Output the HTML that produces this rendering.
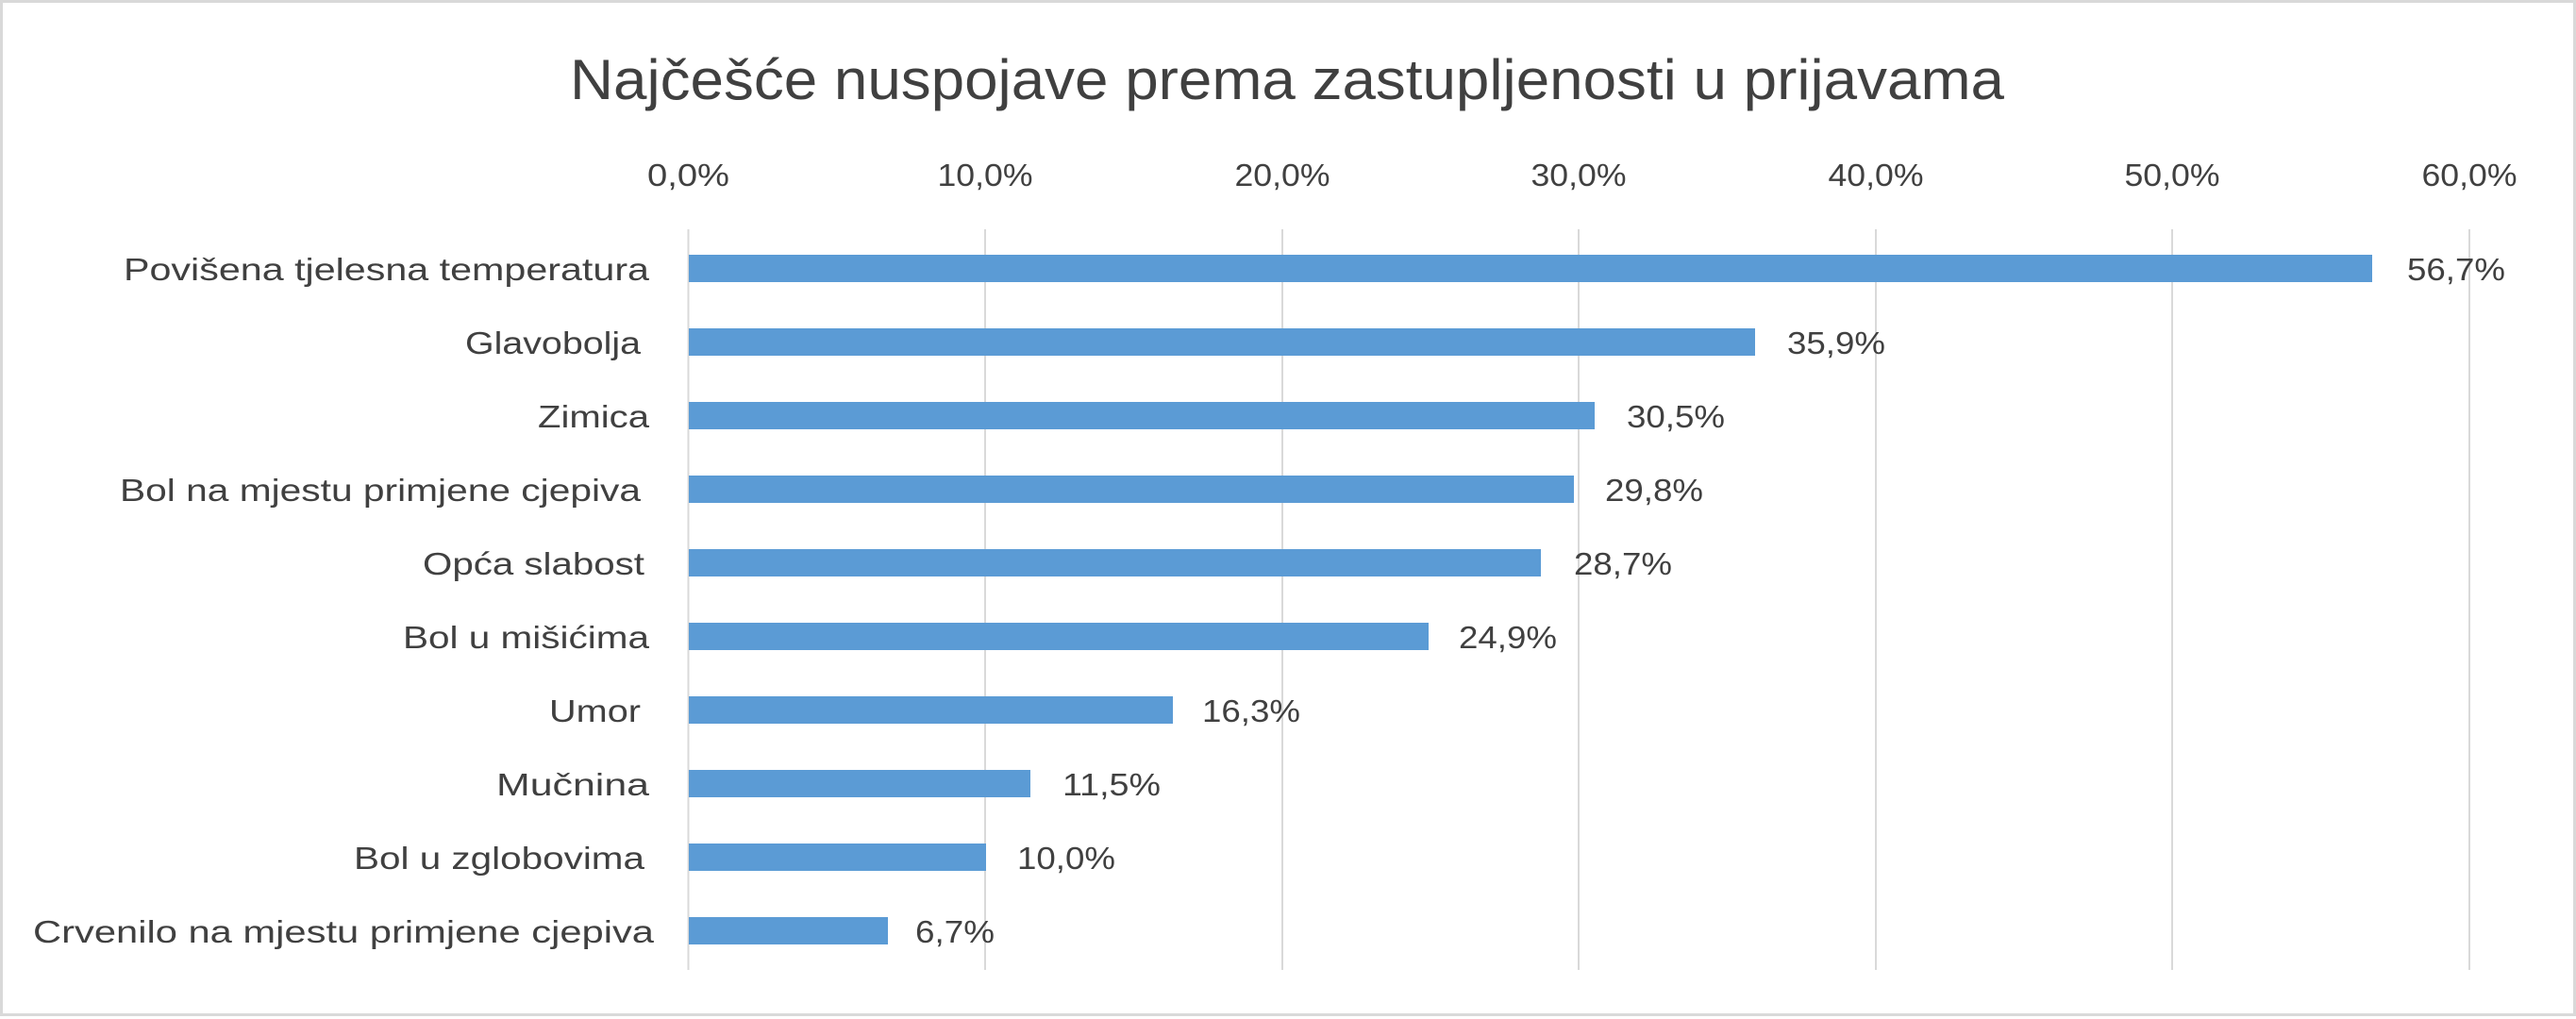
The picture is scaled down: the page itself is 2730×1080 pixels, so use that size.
<!DOCTYPE html>
<html><head><meta charset="utf-8"><style>
html,body{margin:0;padding:0;background:#fff}
svg{display:block}
text{font-family:"Liberation Sans",sans-serif;fill:#404040}
</style></head><body>
<svg width="2730" height="1080" viewBox="0 0 2730 1080">
<rect x="1.5" y="1.5" width="2727" height="1074" fill="#fff" stroke="#d9d9d9" stroke-width="3"/>
<text x="1364" y="105" font-size="60" text-anchor="middle" textLength="1520" lengthAdjust="spacingAndGlyphs">Najčešće nuspojave prema zastupljenosti u prijavama</text>
<g stroke="#d9d9d9" stroke-width="2">
<line x1="729.5" y1="243" x2="729.5" y2="1028"/>
<line x1="1044" y1="243" x2="1044" y2="1028"/>
<line x1="1359" y1="243" x2="1359" y2="1028"/>
<line x1="1673" y1="243" x2="1673" y2="1028"/>
<line x1="1988" y1="243" x2="1988" y2="1028"/>
<line x1="2302" y1="243" x2="2302" y2="1028"/>
<line x1="2617" y1="243" x2="2617" y2="1028"/>
</g>
<g font-size="33" text-anchor="middle" lengthAdjust="spacingAndGlyphs">
<text x="729.5" y="197" textLength="87" lengthAdjust="spacingAndGlyphs">0,0%</text>
<text x="1044" y="197" textLength="101" lengthAdjust="spacingAndGlyphs">10,0%</text>
<text x="1359" y="197" textLength="101" lengthAdjust="spacingAndGlyphs">20,0%</text>
<text x="1673" y="197" textLength="101" lengthAdjust="spacingAndGlyphs">30,0%</text>
<text x="1988" y="197" textLength="101" lengthAdjust="spacingAndGlyphs">40,0%</text>
<text x="2302" y="197" textLength="101" lengthAdjust="spacingAndGlyphs">50,0%</text>
<text x="2617" y="197" textLength="101" lengthAdjust="spacingAndGlyphs">60,0%</text>
</g>
<g fill="#5b9bd5">
<rect x="730" y="270" width="1784" height="29"/>
<rect x="730" y="348" width="1130" height="29"/>
<rect x="730" y="426" width="960" height="29"/>
<rect x="730" y="504" width="938" height="29"/>
<rect x="730" y="582" width="903" height="29"/>
<rect x="730" y="660" width="784" height="29"/>
<rect x="730" y="738" width="513" height="29"/>
<rect x="730" y="816" width="362" height="29"/>
<rect x="730" y="894" width="315" height="29"/>
<rect x="730" y="972" width="211" height="29"/>
</g>
<g font-size="33">
<text x="131" y="297" textLength="557" lengthAdjust="spacingAndGlyphs">Povišena tjelesna temperatura</text>
<text x="493" y="375" textLength="186" lengthAdjust="spacingAndGlyphs">Glavobolja</text>
<text x="570" y="453" textLength="118" lengthAdjust="spacingAndGlyphs">Zimica</text>
<text x="127" y="531" textLength="552" lengthAdjust="spacingAndGlyphs">Bol na mjestu primjene cjepiva</text>
<text x="448" y="609" textLength="235" lengthAdjust="spacingAndGlyphs">Opća slabost</text>
<text x="427" y="687" textLength="261" lengthAdjust="spacingAndGlyphs">Bol u mišićima</text>
<text x="582" y="765" textLength="97" lengthAdjust="spacingAndGlyphs">Umor</text>
<text x="526" y="843" textLength="162" lengthAdjust="spacingAndGlyphs">Mučnina</text>
<text x="375" y="921" textLength="308" lengthAdjust="spacingAndGlyphs">Bol u zglobovima</text>
<text x="35" y="999" textLength="658" lengthAdjust="spacingAndGlyphs">Crvenilo na mjestu primjene cjepiva</text>
</g>
<g font-size="33">
<text x="2551" y="297" textLength="104" lengthAdjust="spacingAndGlyphs">56,7%</text>
<text x="1894" y="375" textLength="104" lengthAdjust="spacingAndGlyphs">35,9%</text>
<text x="1724" y="453" textLength="104" lengthAdjust="spacingAndGlyphs">30,5%</text>
<text x="1701" y="531" textLength="104" lengthAdjust="spacingAndGlyphs">29,8%</text>
<text x="1668" y="609" textLength="104" lengthAdjust="spacingAndGlyphs">28,7%</text>
<text x="1546" y="687" textLength="104" lengthAdjust="spacingAndGlyphs">24,9%</text>
<text x="1274" y="765" textLength="104" lengthAdjust="spacingAndGlyphs">16,3%</text>
<text x="1126" y="843" textLength="104" lengthAdjust="spacingAndGlyphs">11,5%</text>
<text x="1078" y="921" textLength="104" lengthAdjust="spacingAndGlyphs">10,0%</text>
<text x="970" y="999" textLength="84" lengthAdjust="spacingAndGlyphs">6,7%</text>
</g>
</svg>
</body></html>
